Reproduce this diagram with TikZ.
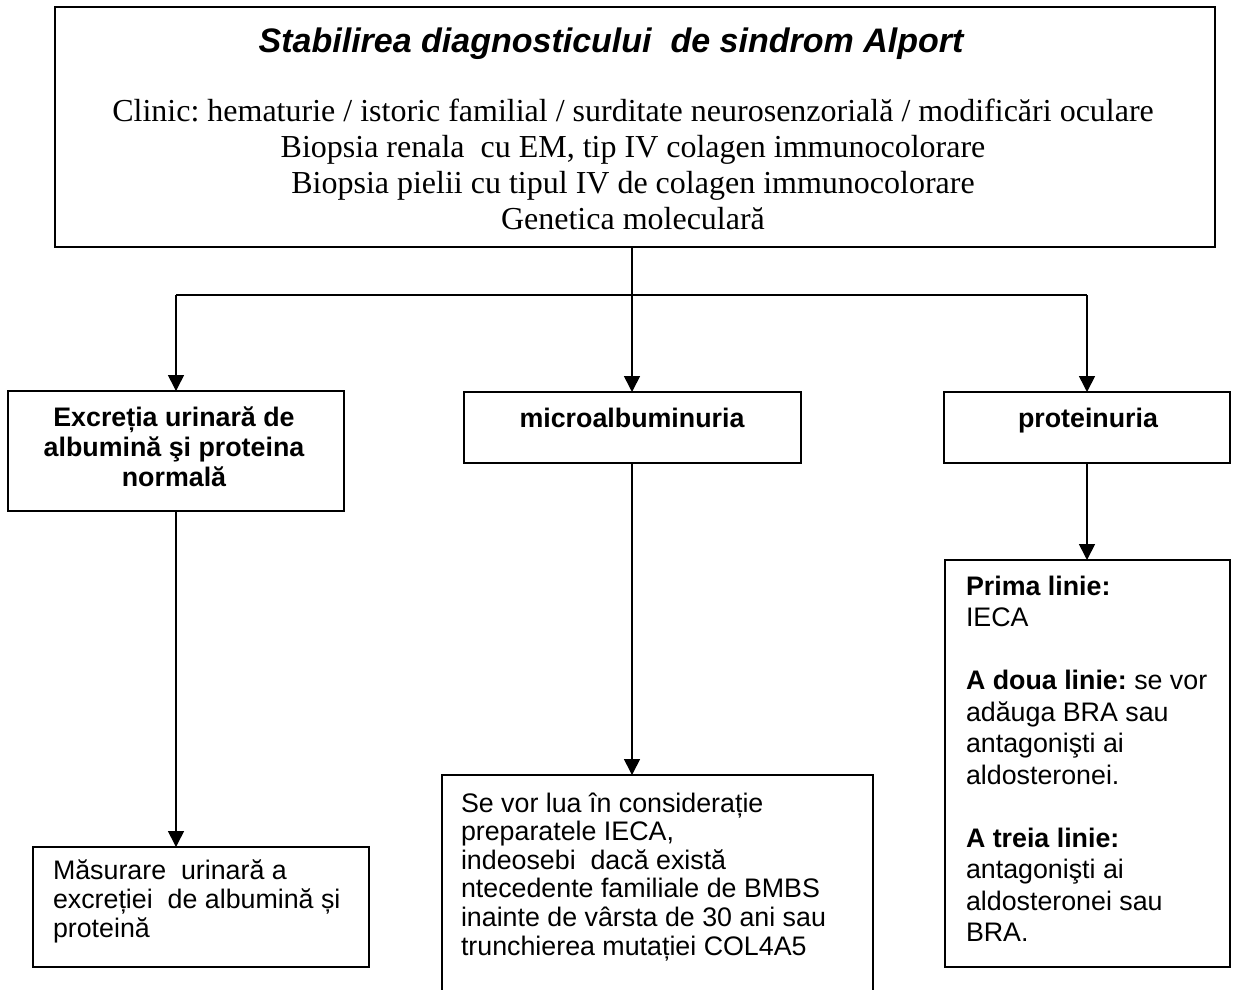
\documentclass[tikz,border=0pt]{standalone}
\usepackage{fontspec}
\setmainfont{Liberation Serif}
\setsansfont{Liberation Sans}
\usetikzlibrary{arrows.meta}
\frenchspacing
\tikzset{
  box/.style={draw=black, line width=1.6pt, inner sep=0pt, outer sep=0pt},
  conn/.style={line width=1.6pt},
  arr/.style={conn, -{Triangle[width=16pt,length=16pt]}},
  txt/.style={inner sep=0pt, outer sep=0pt},
  sanstxt/.style={txt, font=\sffamily\fontsize{26.8}{28.6}\selectfont},
  boldtxt/.style={txt, font=\sffamily\bfseries\fontsize{26.8}{30}\selectfont},
}
\begin{document}
\frenchspacing
\begin{tikzpicture}[x=1pt,y=-1pt]
\useasboundingbox[fill=white] (0,0) rectangle (1236,989);
% boxes
\node[box, minimum width=1160pt, minimum height=240pt] (top) at (635,127) {};
\node[box, minimum width=336pt, minimum height=120pt] (b1) at (176,451) {};
\node[box, minimum width=337pt, minimum height=71pt] (b2) at (632.5,427.5) {};
\node[box, minimum width=286pt, minimum height=71pt] (b3) at (1087,427.5) {};
\node[box, minimum width=336pt, minimum height=120pt] (b4) at (201,907) {};
\node[box, minimum width=431pt, minimum height=240pt] (b5) at (657.5,895) {};
\node[box, minimum width=285pt, minimum height=407pt] (b6) at (1087.5,763.5) {};
% connectors
\coordinate (j) at (632,295);
\draw[conn] (top.south -| j) -- (j);
\draw[conn] (j -| b1.north) -- (j -| b3.north);
\draw[arr] (j -| b1.north) -- (b1.north);
\draw[arr] (j) -- (j |- b2.north);
\draw[arr] (j -| b3.north) -- (b3.north);
\draw[arr] (b1.south) -- (b1.south |- b4.north);
\draw[arr] (j |- b2.south) -- (j |- b5.north);
\draw[arr] (b3.south) -- (b3.south |- b6.north);
% texts
\node[txt, anchor=base, font=\sffamily\bfseries\itshape\fontsize{34}{40}\selectfont] (title) at (611,52) {Stabilirea diagnosticului\ \ de sindrom Alport};
\node[txt, anchor=north, align=center, font=\rmfamily\fontsize{32}{36}\selectfont] (clin) at (633,89) {\rule{0pt}{32pt}Clinic: hematurie / istoric familial / surditate neurosenzorială / modificări oculare\\Biopsia renala\ \ cu EM, tip IV colagen immunocolorare\\Biopsia pielii cu tipul IV de colagen immunocolorare\\Genetica moleculară};
\node[boldtxt, anchor=north, align=center] (t1) at (174,399.5) {\rule{0pt}{26.8pt}Excreția urinară de\\albumină şi proteina\\normală};
\node[boldtxt, anchor=base] (t2) at (632,427) {microalbuminuria};
\node[boldtxt, anchor=base] (t3) at (1088,427) {proteinuria};
\node[sanstxt, anchor=north west, align=left] (t4) at (53,853) {\rule{0pt}{26.8pt}Măsurare\ \ urinară a\\excreției\ \ de albumină și\\proteină};
\node[sanstxt, anchor=north west, align=left] (t5) at (461,785.2) {\rule{0pt}{26.8pt}Se vor lua în considerație\\preparatele IECA,\\indeosebi\ \ dacă există\\ntecedente familiale de BMBS\\inainte de vârsta de 30 ani sau\\trunchierea mutației COL4A5};
\node[txt, anchor=north west, align=left, font=\sffamily\fontsize{26.8}{31.5}\selectfont] (t6) at (966,568.2) {\rule{0pt}{26.8pt}\textbf{Prima linie:}\\IECA\\[31.5pt]\textbf{A doua linie:} se vor\\adăuga BRA sau\\antagonişti ai\\aldosteronei.\\[31.5pt]\textbf{A treia linie:}\\antagonişti ai\\aldosteronei sau\\BRA.};
\end{tikzpicture}
\end{document}
